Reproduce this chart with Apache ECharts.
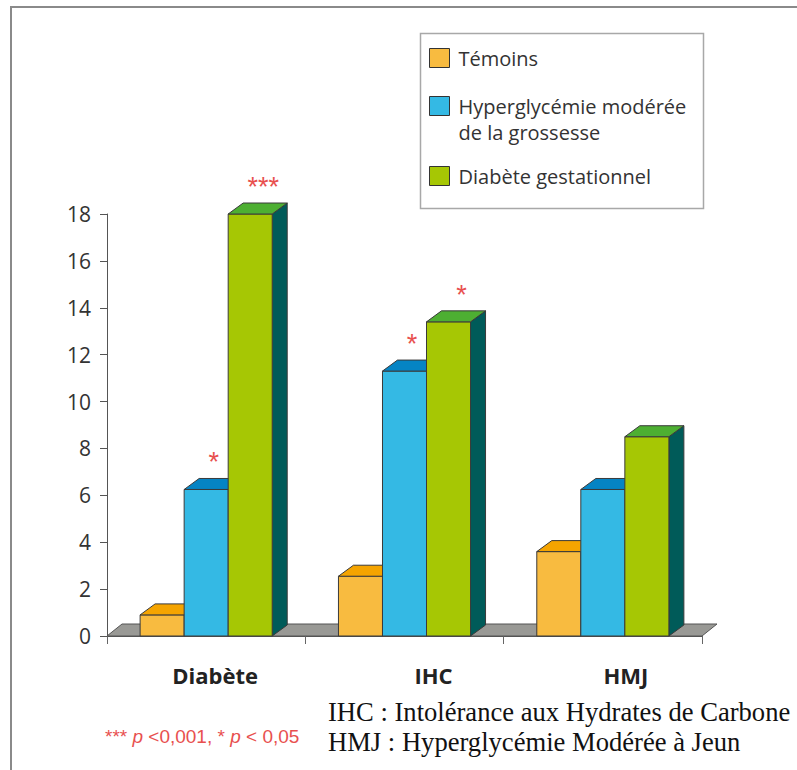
<!DOCTYPE html>
<html>
<head>
<meta charset="utf-8">
<script src="https://cdn.jsdelivr.net/npm/echarts@6/dist/echarts.min.js"></script>
<style>
html,body{margin:0;padding:0;background:#fff;}
#chart{width:797px;height:770px;}
</style>
</head>
<body>
<div id="chart"></div>
<script>
// ---- data ----
const categories = ['Diabète', 'IHC', 'HMJ'];
const seriesNames = ['Témoins', 'Hyperglycémie modérée de la grossesse', 'Diabète gestationnel'];
const temoins = [0.9, 2.55, 3.6];
const hmg = [6.25, 11.3, 6.25];
const diabGest = [18.0, 13.4, 8.5];
const starsTemoins = ['', '', ''];
const starsHmg = ['*', '*', ''];
const starsDiabGest = ['***', '*', ''];
const yTicks = { min: 0, max: 18, interval: 2 };

// ---- style ----
const DX = 15, DY = 11;
const OUT = '#3a3a3a';
const RED = '#E8504F';
const palettes = [
  { front: '#F8BB40', top: '#F5A400', side: '#B87800' },
  { front: '#34B9E4', top: '#0584C4', side: '#005E8C' },
  { front: '#A6C704', top: '#4DAF32', side: '#005B59' }
];
const starShift = [7.5, 7.5, 13];

const chart = echarts.init(document.getElementById('chart'), null, { renderer: 'svg' });

function barSeries(idx, values, stars) {
  const col = palettes[idx];
  return {
    type: 'custom',
    name: seriesNames[idx],
    z: 3 + idx,
    clip: false,
    itemStyle: { color: col.front },
    data: values.map((v, i) => [i, v]),
    encode: { x: 0, y: 1 },
    renderItem: function (params, api) {
      const ci = api.value(0), v = api.value(1);
      const top = api.coord([ci, v]);
      const base = api.coord([ci, 0]);
      const catW = api.size([1, 0])[0];
      const w = catW * 0.222;
      const x = top[0] - 1.5 * w + idx * w;
      const yT = top[1], yB = base[1];
      const children = [
        { type: 'polygon', shape: { points: [[x + w, yT], [x + w + DX, yT - DY], [x + w + DX, yB - DY], [x + w, yB]] },
          style: { fill: col.side, stroke: OUT, lineWidth: 1 } },
        { type: 'rect', shape: { x: x, y: yT, width: w, height: yB - yT },
          style: { fill: col.front, stroke: OUT, lineWidth: 1 } },
        { type: 'polygon', shape: { points: [[x, yT], [x + DX, yT - DY], [x + w + DX, yT - DY], [x + w, yT]] },
          style: { fill: col.top, stroke: OUT, lineWidth: 1 } }
      ];
      const s = stars[params.dataIndex];
      if (s) {
        children.push({ type: 'text', x: x + w / 2 + starShift[idx], y: yT - DY - 16,
          style: { text: s, fill: RED, fontSize: 27, fontFamily: 'Liberation Sans', align: 'center', verticalAlign: 'middle' } });
      }
      return { type: 'group', children: children };
    }
  };
}

const floorSeries = {
  type: 'custom',
  name: 'floor',
  z: 2,
  clip: false,
  silent: true,
  data: [[0, 0]],
  encode: { x: 0, y: 1 },
  renderItem: function (params, api) {
    const cs = params.coordSys;
    const y0 = cs.y + cs.height;
    const x0 = cs.x, x1 = cs.x + cs.width;
    return {
      type: 'polygon',
      shape: { points: [[x0, y0], [x1, y0], [x1 + DX, y0 - 12], [x0 + DX, y0 - 12]] },
      style: { fill: '#999995', stroke: '#555', lineWidth: 1 }
    };
  }
};

const legendText = { fontFamily: 'Open Sans', fontSize: 20, color: '#333', lineHeight: 26, padding: [0, 0, 0, 4] };
const legendCommon = {
  orient: 'vertical', left: 429, padding: 0, itemWidth: 20, itemHeight: 19,
  icon: 'rect', selectedMode: false,
  itemStyle: { borderColor: '#333', borderWidth: 1 },
  textStyle: legendText
};

const catPad = [18, 58, 46];
const rich = {};
catPad.forEach((p, i) => {
  rich['c' + i] = { fontFamily: 'Open Sans', fontWeight: 'bold', fontSize: 22, color: '#222', lineHeight: 22, padding: [0, 0, 0, p] };
});

chart.setOption({
  animation: false,
  backgroundColor: '#fff',
  grid: { left: 107, top: 214, width: 595, height: 422 },
  xAxis: {
    type: 'category',
    data: categories,
    axisLine: { show: true, lineStyle: { color: '#555', width: 1 } },
    axisTick: { show: true, length: 8, lineStyle: { color: '#666' } },
    axisLabel: {
      margin: 28,
      formatter: function (v, i) { return '{c' + i + '|' + v + '}'; },
      rich: rich
    },
    splitLine: { show: false }
  },
  yAxis: {
    type: 'value',
    min: yTicks.min, max: yTicks.max, interval: yTicks.interval,
    axisLine: { show: true, lineStyle: { color: '#555', width: 1 } },
    axisTick: { show: true, length: 7, lineStyle: { color: '#555' } },
    axisLabel: { margin: 16, fontFamily: 'Open Sans', fontSize: 21, color: '#333' },
    splitLine: { show: false }
  },
  legend: [
    Object.assign({}, legendCommon, { top: 45, data: [seriesNames[0]] }),
    Object.assign({}, legendCommon, {
      top: 67, data: [seriesNames[1]],
      formatter: function (n) { return '\u00a0\n' + n.replace(' de la', '\nde la'); }
    }),
    Object.assign({}, legendCommon, { top: 163, data: [seriesNames[2]] })
  ],
  graphic: [
    { type: 'polyline', silent: true, shape: { points: [[11, 770], [11, 7], [797, 7]] },
      style: { stroke: '#8a8a8a', lineWidth: 2, fill: null } },
    { type: 'rect', silent: true, shape: { x: 420.5, y: 33.5, width: 283, height: 175 },
      style: { stroke: '#a8a8a8', lineWidth: 1.5, fill: null } },
    { type: 'text', x: 105, y: 736,
      style: {
        text: '{a|*** }{i|p}{a| <0,001, * }{i|p}{a| < 0,05}',
        verticalAlign: 'middle',
        rich: {
          a: { fontFamily: 'Liberation Sans', fontSize: 19, fill: RED },
          i: { fontFamily: 'Liberation Sans', fontSize: 19, fontStyle: 'italic', fill: RED }
        }
      } },
    { type: 'text', x: 328, y: 712,
      style: { text: 'IHC : Intolérance aux Hydrates de Carbone', fontFamily: 'Liberation Serif', fontSize: 26.6, fill: '#111', verticalAlign: 'middle' } },
    { type: 'text', x: 328, y: 742,
      style: { text: 'HMJ : Hyperglycémie Modérée à Jeun', fontFamily: 'Liberation Serif', fontSize: 26.6, fill: '#111', verticalAlign: 'middle' } }
  ],
  series: [
    floorSeries,
    barSeries(0, temoins, starsTemoins),
    barSeries(1, hmg, starsHmg),
    barSeries(2, diabGest, starsDiabGest)
  ]
});
</script>
</body>
</html>
